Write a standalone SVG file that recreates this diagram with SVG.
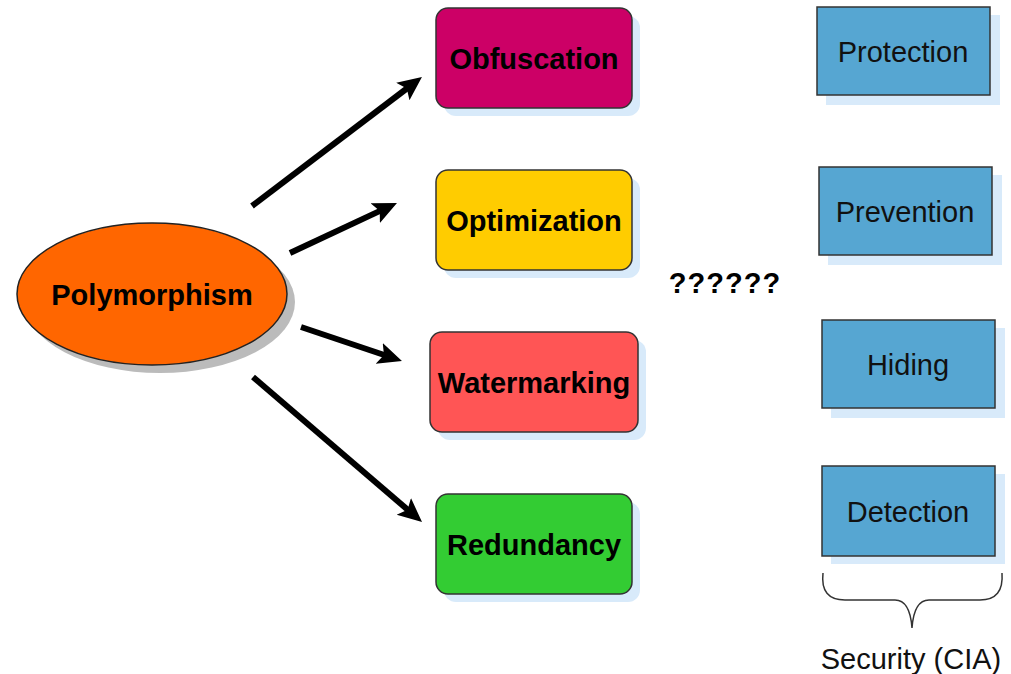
<svg xmlns="http://www.w3.org/2000/svg" width="1011" height="674" viewBox="0 0 1011 674">
  <style>
    .bold { font-family: "Liberation Sans", Arial, sans-serif; font-weight: bold; font-size: 29px; fill: #000; text-anchor: middle; }
    .plain { font-family: "Liberation Sans", Arial, sans-serif; font-size: 29px; fill: #111; text-anchor: middle; }
    .box { stroke: #333; stroke-width: 1.5; }
    .shadow { fill: #D8EAFA; }
    .conn { stroke: #000; stroke-width: 6; fill: none; marker-end: url(#head); }
  </style>
  <defs>
    <marker id="head" markerUnits="userSpaceOnUse" markerWidth="26" markerHeight="24" refX="10" refY="12" orient="auto">
      <path d="M0,1 L24,12 L0,23 L5,12 Z" fill="#000"/>
    </marker>
  </defs>
  <rect width="1011" height="674" fill="#fff"/>

  <g id="polymorphism">
    <ellipse cx="160" cy="302" rx="135" ry="71" fill="#BBBBBB"/>
    <ellipse cx="152" cy="294" rx="135" ry="71" fill="#FF6600" stroke="#222" stroke-width="1.5"/>
    <text class="bold" x="152" y="305">Polymorphism</text>
  </g>

  <g id="obfuscation">
    <rect class="shadow" x="444" y="16" width="196" height="100" rx="12"/>
    <rect class="box" x="436" y="8" width="196" height="100" rx="12" fill="#CC0066"/>
    <text class="bold" x="534" y="69">Obfuscation</text>
  </g>
  <g id="optimization">
    <rect class="shadow" x="444" y="178" width="196" height="100" rx="12"/>
    <rect class="box" x="436" y="170" width="196" height="100" rx="12" fill="#FFCC00"/>
    <text class="bold" x="534" y="231">Optimization</text>
  </g>
  <g id="watermarking">
    <rect class="shadow" x="438" y="340" width="208" height="100" rx="12"/>
    <rect class="box" x="430" y="332" width="208" height="100" rx="12" fill="#FF5555"/>
    <text class="bold" x="534" y="393">Watermarking</text>
  </g>
  <g id="redundancy">
    <rect class="shadow" x="444" y="502" width="196" height="100" rx="12"/>
    <rect class="box" x="436" y="494" width="196" height="100" rx="12" fill="#33CC33"/>
    <text class="bold" x="534" y="555">Redundancy</text>
  </g>

  <g id="unknown">
    <text class="bold" x="725" y="293" font-size="30" letter-spacing="1">??????</text>
  </g>

  <g id="protection">
    <rect class="shadow" x="826" y="15" width="174" height="90"/>
    <rect class="box" x="817" y="7" width="173" height="88" fill="#56A6D2"/>
    <text class="plain" x="903" y="62">Protection</text>
  </g>
  <g id="prevention">
    <rect class="shadow" x="828" y="175" width="174" height="90"/>
    <rect class="box" x="819" y="167" width="173" height="88" fill="#56A6D2"/>
    <text class="plain" x="905" y="222">Prevention</text>
  </g>
  <g id="hiding">
    <rect class="shadow" x="831" y="328" width="174" height="90"/>
    <rect class="box" x="822" y="320" width="173" height="88" fill="#56A6D2"/>
    <text class="plain" x="908" y="375">Hiding</text>
  </g>
  <g id="detection">
    <rect class="shadow" x="831" y="474" width="174" height="90"/>
    <rect class="box" x="822" y="466" width="173" height="90" fill="#56A6D2"/>
    <text class="plain" x="908" y="522">Detection</text>
  </g>

  <g id="security">
    <path d="M823,573 Q820,600 845,600 L895,600 Q910,600 912,628 Q914,600 929,600 L980,600 Q1004,600 1002,573" fill="none" stroke="#333" stroke-width="1.5"/>
    <text class="plain" x="911" y="669">Security (CIA)</text>
  </g>

  <g id="connectors">
    <line class="conn" x1="252" y1="206" x2="410.8" y2="85.5"/>
    <line class="conn" x1="290" y1="253" x2="384.3" y2="208.9"/>
    <line class="conn" x1="301" y1="327" x2="388.7" y2="356.5"/>
    <line class="conn" x1="253" y1="377" x2="411.4" y2="512.9"/>
  </g>
</svg>
